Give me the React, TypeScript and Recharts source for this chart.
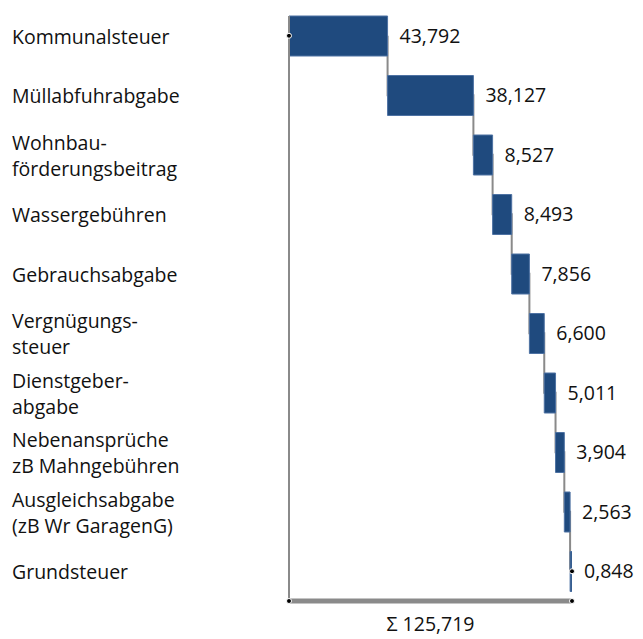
import {
  ComposedChart,
  Bar,
  Line,
  XAxis,
  YAxis,
  LabelList,
  ReferenceDot,
} from 'recharts'

const categories = [
  'Kommunalsteuer',
  'Müllabfuhrabgabe',
  'Wohnbau-\nförderungsbeitrag',
  'Wassergebühren',
  'Gebrauchsabgabe',
  'Vergnügungs-\nsteuer',
  'Dienstgeber-\nabgabe',
  'Nebenansprüche\nzB Mahngebühren',
  'Ausgleichsabgabe\n(zB Wr GaragenG)',
  'Grundsteuer',
]

const values = [43.792, 38.127, 8.527, 8.493, 7.856, 6.6, 5.011, 3.904, 2.563, 0.848]

const total = 125.719

const fmt = (v: number) => v.toFixed(3).replace('.', ',')

let running = 0
const data = categories.map((name, i) => {
  const base = running
  running += values[i]
  return { name, base, value: values[i], end: running }
})

const FONT = '"Open Sans", sans-serif'
const GREY = '#8a8a8a'

function CategoryTick(props: any) {
  const { y, payload } = props
  const lines = String(payload.value).split('\n')
  const lh = 26
  return (
    <text
      x={12}
      y={y - ((lines.length - 1) * lh) / 2}
      textAnchor="start"
      dominantBaseline="central"
      fontSize={19.5}
      fill="#111"
      fontFamily={FONT}
    >
      {lines.map((l, i) => (
        <tspan key={i} x={12} dy={i === 0 ? 0 : lh}>
          {l}
        </tspan>
      ))}
    </text>
  )
}

function DotTick(props: any) {
  const { x, y } = props
  return <circle cx={x} cy={y} r={2.5} fill="#000" stroke="#fff" strokeWidth={1} />
}

export default function App() {
  return (
    <div style={{ position: 'absolute', left: 0, top: 0, fontFamily: FONT }}>
      <ComposedChart
        width={643}
        height={639}
        data={data}
        layout="vertical"
        margin={{ top: 16, right: 71, left: 0, bottom: 2 }}
      >
        <XAxis
          type="number"
          domain={[0, total]}
          allowDataOverflow
          ticks={[0, total]}
          tick={<DotTick />}
          tickLine={false}
          tickSize={0}
          tickMargin={0}
          height={36}
          axisLine={{ stroke: GREY, strokeWidth: 5 }}
          label={{
            value: `Σ ${fmt(total)}`,
            position: 'insideBottom',
            offset: 6,
            fontSize: 19.5,
            fill: '#111',
          }}
        />
        <YAxis
          type="category"
          dataKey="name"
          width={289}
          padding={{ top: -10, bottom: 0 }}
          tickLine={false}
          axisLine={{ stroke: GREY, strokeWidth: 2 }}
          tick={<CategoryTick />}
          interval={0}
        />
        <Line
          dataKey="end"
          type="stepBefore"
          stroke={GREY}
          strokeWidth={2}
          dot={false}
          isAnimationActive={false}
          zIndex={50}
        />
        <Bar dataKey="base" stackId="a" fill="transparent" barSize={40} isAnimationActive={false} />
        <Bar
          dataKey="value"
          stackId="a"
          fill="#1f4a7e"
          stroke="#4e72a3"
          strokeWidth={1}
          barSize={40}
          isAnimationActive={false}
        >
          <LabelList
            dataKey="value"
            position="right"
            offset={12}
            formatter={(v: any) => fmt(Number(v))}
            fontSize={19.5}
            fill="#111"
            fontFamily={FONT}
          />
        </Bar>
        <ReferenceDot x={0} y={categories[0]} r={2.5} fill="#000" stroke="#fff" strokeWidth={1} />
        <ReferenceDot
          x={total}
          y={categories[categories.length - 1]}
          r={2.5}
          fill="#000"
          stroke="#fff"
          strokeWidth={1}
        />
      </ComposedChart>
    </div>
  )
}
